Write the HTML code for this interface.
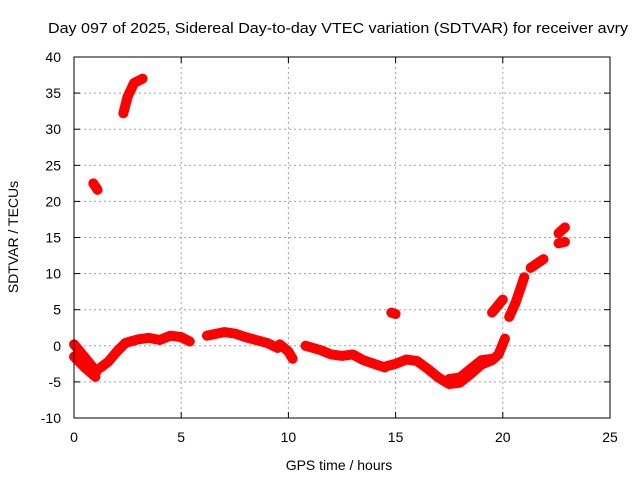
<!DOCTYPE html>
<html><head><meta charset="utf-8"><style>
body{margin:0;background:#fff}
svg text{font-family:"Liberation Sans",sans-serif;font-size:14px;fill:#000}
</style></head><body>
<svg width="640" height="480" id="c">
<text x="338" y="33" text-anchor="middle" textLength="580" lengthAdjust="spacingAndGlyphs" style="font-size:15px">Day 097 of 2025, Sidereal Day-to-day VTEC variation (SDTVAR) for receiver avry</text>
<text x="339" y="470" text-anchor="middle">GPS time / hours</text>
<text transform="translate(18,237) rotate(-90)" text-anchor="middle">SDTVAR / TECUs</text>
<g id="grid"></g><g id="data"></g>
<rect x="74" y="57" width="536" height="361" fill="none" stroke="#000"/>
</svg>
<script>
const xTicks=[0,5,10,15,20,25];
const yTicks=[-10,-5,0,5,10,15,20,25,30,35,40];
const seg1=[[0,0.2],[0.5,-1.6],[1.05,-3.6]];
const seg1b=[[0,-1.5],[0.5,-3],[1.0,-4.3]];
const seg2=[[1.25,-3],[1.6,-2.2],[2.0,-0.8],[2.4,0.4],[3,0.9],[3.5,1.1],[4,0.8],[4.5,1.4],[5,1.2],[5.4,0.6]];
const seg3=[[6.2,1.4],[7,1.9],[7.5,1.7],[8,1.2],[8.5,0.8],[9,0.4],[9.5,-0.3]];
const seg4=[[9.6,0.2],[10,-0.8],[10.2,-1.8]];
const seg5=[[10.8,0],[11.5,-0.6],[12,-1.2],[12.5,-1.4],[13,-1.2],[13.5,-2],[14,-2.5],[14.5,-3]];
const seg6=[[14.6,-2.8],[15,-2.5],[15.5,-1.9],[16,-2.1],[16.5,-3.2],[17,-4.4],[17.5,-5.3],[18,-5.1],[18.5,-3.9],[19,-2.6],[19.5,-2],[19.8,-1.2],[20.1,1]];
const seg6b=[[17.5,-4.6],[18,-4.4],[18.5,-3.2],[19,-2],[19.5,-1.8]];
const seg7=[[19.5,4.6],[20,6.4]];
const seg8=[[20.3,4],[20.6,6],[21,9.5]];
const seg9=[[21.3,10.8],[21.9,12]];
const seg10=[[22.6,14.2],[22.9,14.4]];
const seg11=[[22.6,15.6],[22.9,16.4]];
const seg12=[[2.3,32.2],[2.5,34.5],[2.8,36.4],[3.2,37]];
const seg13=[[0.9,22.5],[1.1,21.6]];
const seg14=[[14.8,4.6],[15,4.4]];
const series=[seg1,seg1b,seg2,seg3,seg4,seg5,seg6,seg6b,seg7,seg8,seg9,seg10,seg11,seg12,seg13,seg14];
const X=h=>74+h*536/25, Y=v=>57+(40-v)*361/50;
const NS='http://www.w3.org/2000/svg';
const g=document.getElementById('grid'), d=document.getElementById('data');
function mk(t,a,p){const e=document.createElementNS(NS,t);for(const k in a)e.setAttribute(k,a[k]);p.appendChild(e);return e;}
xTicks.forEach(t=>{const x=X(t);
 if(t>0&&t<25){const l=mk('line',{x1:x,x2:x,y1:57,y2:418,stroke:'#a0a0a0','stroke-dasharray':'2,3'},g);
 
 }
 mk('line',{x1:x,x2:x,y1:418,y2:412,stroke:'#000'},g);mk('line',{x1:x,x2:x,y1:57,y2:63,stroke:'#000'},g);
 const tx=mk('text',{x:x,y:442,'text-anchor':'middle'},g);tx.textContent=t;
 
 });
yTicks.forEach(t=>{const y=Y(t);
 if(t>-10&&t<40){const l=mk('line',{x1:74,x2:610,y1:y,y2:y,stroke:'#a0a0a0','stroke-dasharray':'2,3'},g);
 
 }
 mk('line',{x1:74,x2:80,y1:y,y2:y,stroke:'#000'},g);mk('line',{x1:610,x2:604,y1:y,y2:y,stroke:'#000'},g);
 const tx=mk('text',{x:61,y:y+5,'text-anchor':'end'},g);tx.textContent=t;
 
 });
series.forEach((s,i)=>{
 const p=mk('polyline',{points:s.map(q=>X(q[0])+','+Y(q[1])).join(' '),fill:'none',stroke:'#ff0000','stroke-width':10,'stroke-linejoin':'round','stroke-linecap':'round'},d);
 
 
});
</script>
</body></html>
